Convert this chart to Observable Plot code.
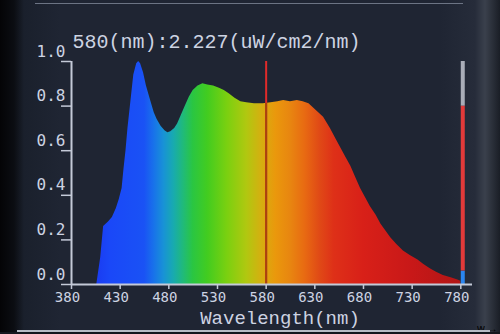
<!DOCTYPE html>
<html>
<head>
<meta charset="utf-8">
<script src="https://cdn.jsdelivr.net/npm/d3@7"></script>
<script src="https://cdn.jsdelivr.net/npm/@observablehq/plot@0.6"></script>
<style>
  html, body { margin: 0; padding: 0; background: #1d2330; }
  #wrap { position: relative; width: 500px; height: 334px; overflow: hidden;
    background: linear-gradient(to right, #040406 0px, #0b0d12 14px, #1a202c 24px, #1f2533 60px, #1f2533 440px, #262c3a 475px, #3a404c 485px, #1a1e26 500px); }
  #topline { position: absolute; left: 35px; top: 3px; width: 428px; height: 1px; background: #6c7484; }
  #botline { position: absolute; left: 17px; top: 330px; width: 473px; height: 2px; background: #b8bcc6; }
  #botband { position: absolute; left: 0; top: 332px; width: 500px; height: 2px; background: #14171e; }
  #chart { position: absolute; left: 0; top: 0; }
</style>
</head>
<body>
<div id="wrap"><div id="topline"></div><div id="chart"></div><div id="botline"></div><div id="botband"></div></div>
<script>
// ---- data ----
const wavelengths = [406, 410, 413, 418, 422, 426, 429, 432, 434, 436, 438, 441, 444, 447, 449, 451, 454, 457, 461, 465, 468, 472, 476, 479, 482, 486, 489, 493, 497, 501, 505, 510, 515, 520, 526, 532, 537, 542, 548, 554, 560, 568, 577, 585, 592, 598, 605, 612, 618, 624, 629, 634, 639, 646, 652, 657, 662, 667, 672, 677, 682, 687, 693, 698, 703, 708, 714, 721, 728, 736, 742, 749, 755, 762, 770, 777, 780];
const intensity   = [0.0, 0.12, 0.26, 0.28, 0.30, 0.34, 0.38, 0.43, 0.52, 0.60, 0.70, 0.82, 0.94, 0.99, 1.0, 0.99, 0.95, 0.89, 0.83, 0.77, 0.74, 0.71, 0.69, 0.68, 0.685, 0.70, 0.72, 0.76, 0.80, 0.84, 0.87, 0.89, 0.90, 0.895, 0.89, 0.88, 0.87, 0.855, 0.835, 0.82, 0.815, 0.81, 0.81, 0.815, 0.82, 0.825, 0.82, 0.825, 0.82, 0.81, 0.79, 0.77, 0.75, 0.70, 0.65, 0.61, 0.57, 0.53, 0.48, 0.43, 0.39, 0.35, 0.31, 0.27, 0.24, 0.21, 0.18, 0.15, 0.13, 0.11, 0.09, 0.07, 0.055, 0.04, 0.03, 0.02, 0.015];

const xTicks = [380, 430, 480, 530, 580, 630, 680, 730, 780];
const yTicks = [0.0, 0.2, 0.4, 0.6, 0.8, 1.0];

const cursorNm = 580;
const cursorValue = "2.227";
const unitLabel = "(uW/cm2/nm)";
const xLabel = "Wavelength(nm)";

// level indicator at right edge
const levelX = 782;
const levelLow = [0, 0.06, 0.8];
const levelHigh = [0.06, 0.8, 1.0];
const levelColors = ["#2a86f0", "#e23a3a", "#a9adb8"];

// spectral colour stops (wavelength -> colour)
const stopNm =    [406, 420, 455, 465, 475, 485, 495, 505, 520, 540, 560, 575, 590, 605, 620, 635, 650, 680, 730, 780];
const stopColor = ["#1a3cf2", "#1a48f8", "#1a52f5", "#1872ea", "#1892d6", "#18aab0", "#20ba7a", "#2ac642", "#42cc20", "#7ad010", "#b0c810", "#d4b010", "#ea980c", "#e88610", "#e86a12", "#e04a16", "#de3018", "#d82018", "#c81818", "#b21616"];

// ---- build ----
const spectrum = wavelengths.map((w, i) => ({w, v: intensity[i]}));
const levels = levelLow.map((lo, i) => ({lo, hi: levelHigh[i], c: levelColors[i]}));
const cursorFillTop = d3.scaleLinear().domain(wavelengths).range(intensity)(cursorNm);

const axisColor = "#c4cad8";
const textColor = "#cdd3e2";
const mono = "'DejaVu Sans Mono', monospace";
const serifMono = "'Liberation Mono', 'DejaVu Sans Mono', monospace";

const plot = Plot.plot({
  width: 500,
  height: 334,
  marginLeft: 71,
  marginRight: 28,
  marginTop: 61,
  marginBottom: 50,
  style: {background: "transparent", overflow: "visible"},
  x: {domain: [380, 792], axis: null},
  y: {domain: [0, 1], axis: null},
  marks: [
    Plot.areaY(spectrum, {x: "w", y: "v", fill: "url(#specgrad)", curve: "linear"}),
    Plot.ruleX([cursorNm], {stroke: "#e02a2a", strokeWidth: 2}),
    Plot.ruleX([cursorNm], {y1: 0, y2: cursorFillTop, stroke: "#a8440e", strokeWidth: 2}),
    Plot.ruleX(levels, {x: () => levelX, y1: "lo", y2: "hi", stroke: "c", strokeWidth: 4}),
    Plot.ruleX([380], {stroke: axisColor, strokeWidth: 2}),
    Plot.ruleY([0], {stroke: axisColor, strokeWidth: 2}),
    Plot.axisX({ticks: xTicks, tickSize: 5, tickFormat: () => "", stroke: axisColor, strokeWidth: 1.5}),
    Plot.axisY({ticks: yTicks, tickSize: 10, tickFormat: () => "", stroke: axisColor, strokeWidth: 1.5}),
    Plot.text(xTicks, {x: d => d, text: d => String(d), frameAnchor: "bottom", dy: 13, dx: -4, fontSize: 14, fontFamily: mono, fill: textColor, lineAnchor: "middle"}),
    Plot.text(yTicks, {y: d => d, text: d => d.toFixed(1), frameAnchor: "left", dx: -6, dy: -10, textAnchor: "end", fontSize: 16, fontFamily: mono, fill: textColor, lineAnchor: "middle"}),
    Plot.text([`${cursorNm}(nm):${cursorValue}${unitLabel}`], {frameAnchor: "top-left", dx: 1, dy: -20, textAnchor: "start", lineAnchor: "middle", fontSize: 20, fontFamily: serifMono, fill: textColor}),
    Plot.text([xLabel], {frameAnchor: "bottom", dx: 8, dy: 33, lineAnchor: "middle", fontSize: 19, fontFamily: serifMono, fill: textColor})
  ]
});

// spectral gradient in the x scale's pixel space
const xs = plot.scale("x");
const x0 = xs.apply(stopNm[0]), x1 = xs.apply(stopNm[stopNm.length - 1]);
const ns = "http://www.w3.org/2000/svg";
const defs = document.createElementNS(ns, "defs");
const grad = document.createElementNS(ns, "linearGradient");
grad.setAttribute("id", "specgrad");
grad.setAttribute("gradientUnits", "userSpaceOnUse");
grad.setAttribute("x1", x0); grad.setAttribute("x2", x1);
grad.setAttribute("y1", 0); grad.setAttribute("y2", 0);
stopNm.forEach((w, i) => {
  const s = document.createElementNS(ns, "stop");
  s.setAttribute("offset", (xs.apply(w) - x0) / (x1 - x0));
  s.setAttribute("stop-color", stopColor[i]);
  grad.appendChild(s);
});
defs.appendChild(grad);
plot.insertBefore(defs, plot.firstChild);

document.getElementById("chart").appendChild(plot);
</script>
</body>
</html>
